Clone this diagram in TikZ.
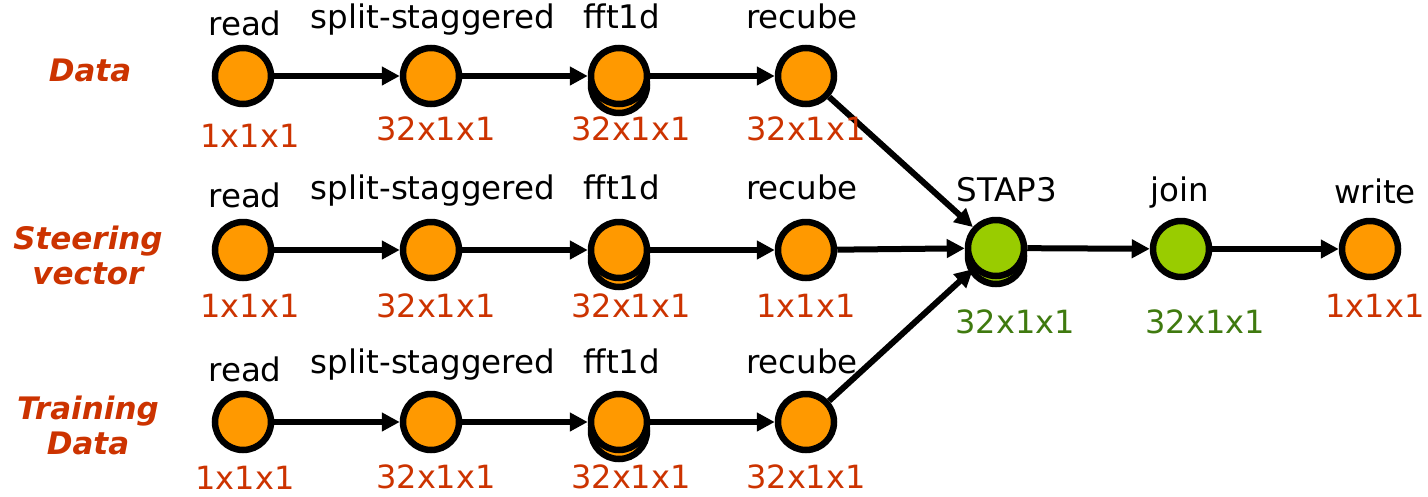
\documentclass[tikz,border=0pt]{standalone}
\usepackage{fontspec}
\setmainfont{DejaVu Sans}
\usetikzlibrary{arrows.meta}
\definecolor{orng}{HTML}{FF9900}
\definecolor{lime}{HTML}{99CC00}
\definecolor{lbl}{HTML}{CC3300}
\definecolor{grn}{HTML}{3F7A0F}
\begin{document}
\begin{tikzpicture}[x=1pt,y=-1pt,
  proc/.style={circle,draw=black,line width=6.5pt,minimum size=56pt,inner sep=0pt,fill=orng},
  gproc/.style={proc,fill=lime},
  arr/.style={line width=6pt,-{Triangle[length=18pt,width=18pt]}},
  ttl/.style={anchor=base,inner sep=0pt,font=\fontsize{32.5}{38}\selectfont,text=black},
  dim/.style={anchor=base,inner sep=0pt,font=\fontsize{32}{38}\selectfont,text=lbl},
  gdim/.style={dim,text=grn},
  rowl/.style={inner sep=0pt,align=center,font=\fontsize{31}{35}\selectfont\bfseries\itshape,text=lbl}]
\useasboundingbox (0,0) rectangle (1428,496);
% row labels
\node[rowl] (L1) at (90,70) {Data};
\node[rowl] (L2) at (88,255) {Steering\\vector};
\node[rowl] (L3) at (88,425) {Training\\Data};
% shadows
\node[proc] (f1s) at (619,85) {};
\node[proc] (f2s) at (619,259) {};
\node[proc] (f3s) at (619,431) {};
\node[gproc] (stS) at (996,256) {};
% row 1
\node[proc] (r1) at (243,76) {};
\node[proc] (s1) at (431,76) {};
\node[proc] (f1) at (619,76) {};
\node[proc] (c1) at (806,76) {};
% row 2
\node[proc] (r2) at (243,250) {};
\node[proc] (s2) at (431,250) {};
\node[proc] (f2) at (619,250) {};
\node[proc] (c2) at (806,250) {};
% row 3
\node[proc] (r3) at (243,422) {};
\node[proc] (s3) at (431,422) {};
\node[proc] (f3) at (619,422) {};
\node[proc] (c3) at (806,422) {};
% right
\node[gproc] (st) at (996,248) {};
\node[gproc] (jn) at (1181,249) {};
\node[proc] (wr) at (1370,249) {};
% edges
\draw[arr] (r1) -- (s1);
\draw[arr] (s1) -- (f1);
\draw[arr] (f1) -- (c1);
\draw[arr] (r2) -- (s2);
\draw[arr] (s2) -- (f2);
\draw[arr] (f2) -- (c2);
\draw[arr] (r3) -- (s3);
\draw[arr] (s3) -- (f3);
\draw[arr] (f3) -- (c3);
\draw[arr] (c1) -- (st);
\draw[arr] (c2) -- (st);
\draw[arr] (c3) -- (st);
\draw[arr] (st) -- (jn);
\draw[arr] (jn) -- (wr);
% top labels
\node[ttl] (t1r) at (245,35) {read};
\node[ttl] (t1s) at (433,28) {split-staggered};
\node[ttl] (t1f) at (622,28) {fft1d};
\node[ttl] (t1c) at (802,28) {recube};
\node[ttl] (t2r) at (245,207) {read};
\node[ttl] (t2s) at (433,199) {split-staggered};
\node[ttl] (t2f) at (622,199) {fft1d};
\node[ttl] (t2c) at (802,199) {recube};
\node[ttl] (t3r) at (245,381) {read};
\node[ttl] (t3s) at (433,373) {split-staggered};
\node[ttl] (t3f) at (622,373) {fft1d};
\node[ttl] (t3c) at (802,373) {recube};
\node[ttl] (tst) at (1007,201) {STAP3};
\node[ttl] (tjn) at (1180,201) {join};
\node[ttl] (twr) at (1375,203) {write};
% dimension labels
\node[dim] (d1r) at (250,147) {1x1x1};
\node[dim] (d1s) at (436,140) {32x1x1};
\node[dim] (d1f) at (631,140) {32x1x1};
\node[dim] (d1c) at (806,140) {32x1x1};
\node[dim] (d2r) at (250,317) {1x1x1};
\node[dim] (d2s) at (436,317) {32x1x1};
\node[dim] (d2f) at (631,317) {32x1x1};
\node[dim] (d2c) at (806,317) {1x1x1};
\node[dim] (d3r) at (245,489) {1x1x1};
\node[dim] (d3s) at (436,488) {32x1x1};
\node[dim] (d3f) at (631,488) {32x1x1};
\node[dim] (d3c) at (806,488) {32x1x1};
\node[gdim] (dst) at (1015,333) {32x1x1};
\node[gdim] (djn) at (1205,333) {32x1x1};
\node[dim] (dwr) at (1375,317) {1x1x1};
\end{tikzpicture}
\end{document}
